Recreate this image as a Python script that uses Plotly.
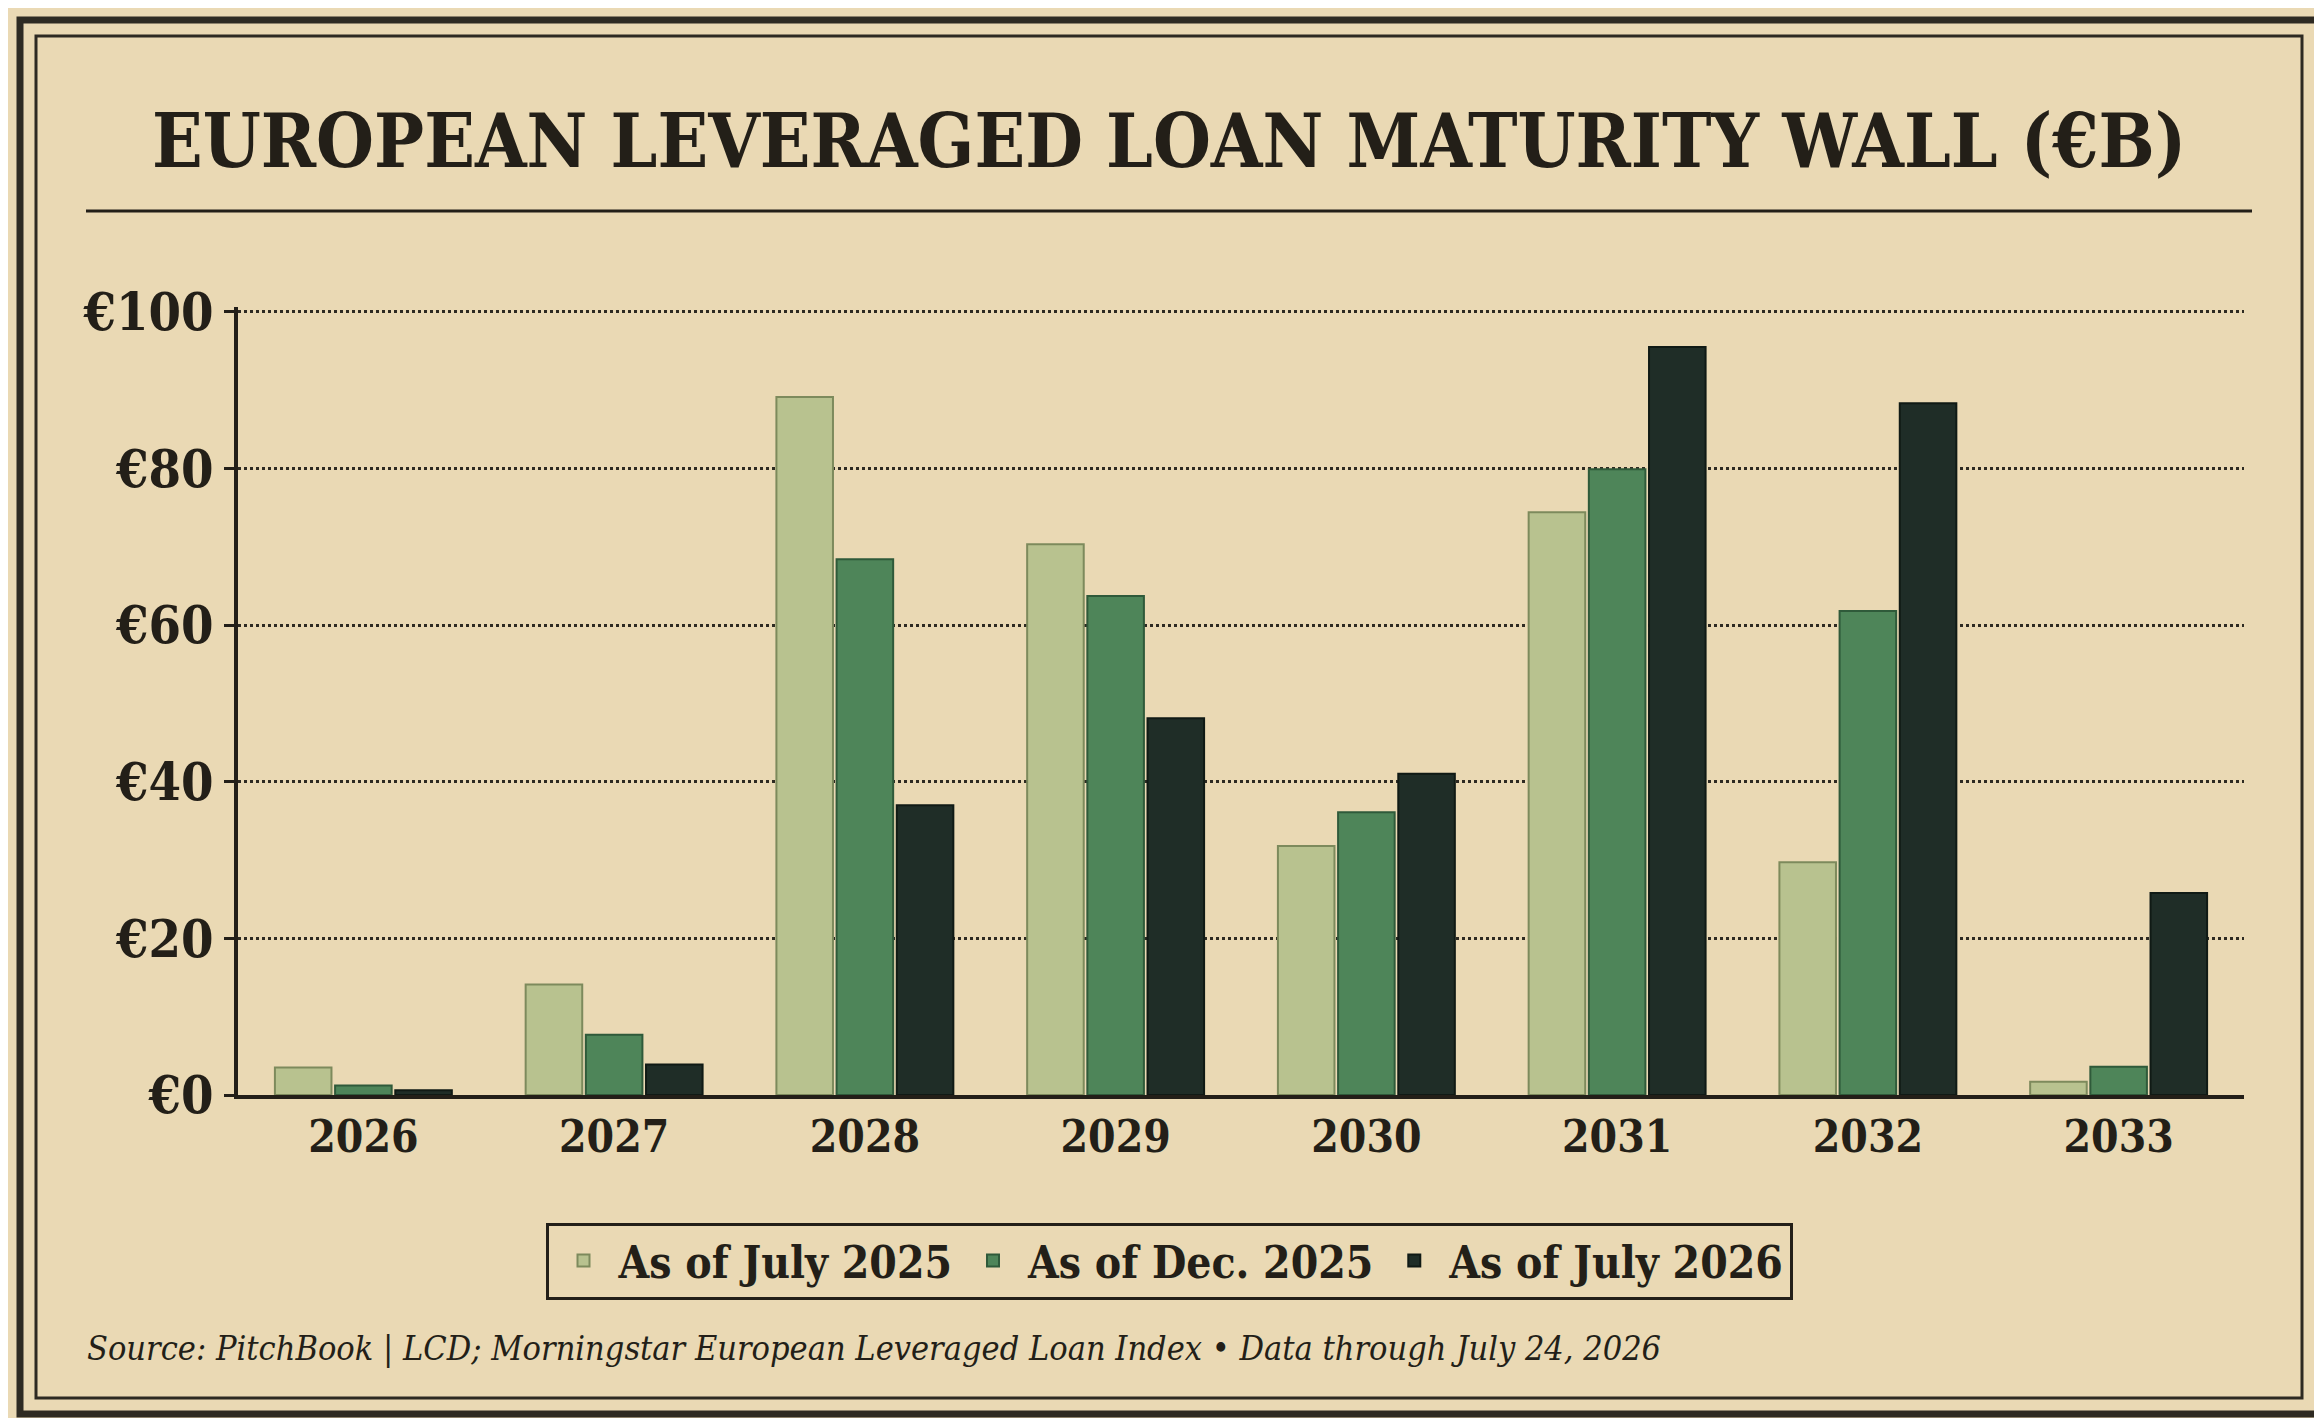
import plotly
import plotly.graph_objs as go
from plotly.graph_objs import Bar, Layout

W, H = 2322, 1418  # canvas size

def px(x, y):
    """Convert picture pixels to paper coordinates."""
    L, R, T, B = 230, 86, 299, 331
    return (x - L) / (W - L - R), 1 - (y - T) / (H - T - B)

# Maturity wall data (EUR billions)
years = ['2026', '2027', '2028', '2029', '2030', '2031', '2032', '2033']
jul25 = [3.5, 14.1, 89.1, 70.3, 31.8, 74.4, 29.7, 1.7]
dec25 = [1.2, 7.7, 68.4, 63.7, 36.1, 79.9, 61.8, 3.6]
jul26 = [0.6, 3.9, 37.0, 48.1, 41.0, 95.5, 88.3, 25.8]

data = [
    Bar(x=years, y=jul25, name='<b>As of July 2025</b>', marker=dict(color='#b8c28f', line=dict(color='#7d8a5c', width=2))),
    Bar(x=years, y=dec25, name='<b>As of Dec. 2025</b>', marker=dict(color='#4e8559', line=dict(color='#2f5a3a', width=2))),
    Bar(x=years, y=jul26, name='<b>As of July 2026</b>', marker=dict(color='#1f2d27', line=dict(color='#101a15', width=2))),
]

serif = 'DejaVu Serif Condensed, DejaVu Serif, serif'
ink = '#231f18'

# Frame lines
shapes = []
for off, w in [(12, 7), (28, 3)]:
    x0, y0 = px(off, off)
    x1, y1 = px(W - off, H - off)
    shapes.append(dict(type='rect', xref='paper', yref='paper', x0=x0, y0=y0, x1=x1, y1=y1,
                       line=dict(color='#2e2a22', width=w), layer='below'))
tx0, ty = px(78, 203)
tx1, _ = px(2244, 203)
shapes.append(dict(type='line', xref='paper', yref='paper', x0=tx0, x1=tx1, y0=ty, y1=ty, line=dict(color=ink, width=3)))

tx, tyy = px(W / 2, 133)
sx, sy = px(77, 1340)
annotations = [
    dict(text='<b>EUROPEAN LEVERAGED LOAN MATURITY WALL (€B)</b>', x=tx, y=tyy, xref='paper', yref='paper',
         xanchor='center', yanchor='middle', showarrow=False, font=dict(family=serif, size=74, color=ink)),
    dict(text='<i>Source: PitchBook | LCD; Morningstar European Leveraged Loan Index • Data through July 24, 2026</i>',
         x=sx, y=sy, xref='paper', yref='paper', xanchor='left', yanchor='middle', showarrow=False,
         font=dict(family=serif, size=34, color=ink)),
]

lx, ly = px(W / 2, 1253)
fig = go.Figure(data=data, layout=Layout(
    width=W, height=H,
    paper_bgcolor='#ead9b4', plot_bgcolor='#ead9b4',
    margin=dict(l=230, r=86, t=299, b=331),
    barmode='group', bargap=0.28, bargroupgap=0.06,
    font=dict(family=serif, color=ink),
    xaxis=dict(tickvals=years, ticktext=['<b>' + y + '</b>' for y in years],
               tickfont=dict(size=44, family=serif), showline=True, linecolor=ink, linewidth=4, ticks=''),
    yaxis=dict(range=[0, 100.6], tickvals=[0, 20, 40, 60, 80, 100],
               ticktext=['<b>€%d</b>' % v for v in [0, 20, 40, 60, 80, 100]],
               tickfont=dict(size=52, family=serif), showline=True, linecolor=ink, linewidth=4,
               gridcolor='#2e2a22', griddash='dot', gridwidth=2.5, zeroline=False,
               ticks='outside', ticklen=10, tickwidth=3, tickcolor=ink),
    legend=dict(orientation='h', x=lx, y=ly, xanchor='center', yanchor='middle',
                bgcolor='#ead9b4', bordercolor=ink, borderwidth=3,
                font=dict(size=44, family=serif), itemwidth=60),
    shapes=shapes, annotations=annotations,
))

fig.write_html('out.html')
